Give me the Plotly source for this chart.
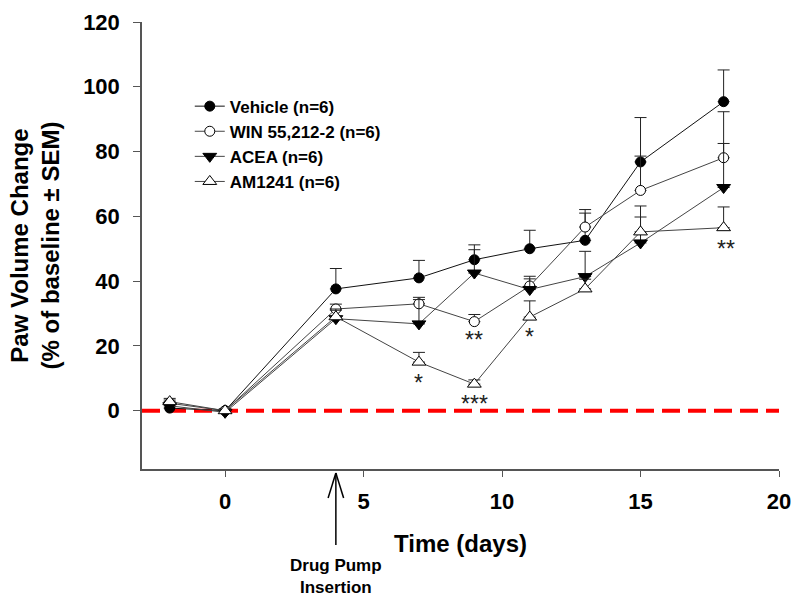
import plotly.graph_objects as go

# ---- data ----
days = [-2, 0, 4, 7, 9, 11, 13, 15, 18]

vehicle = [0.8, 0.0, 37.6, 41.0, 46.6, 50.0, 52.6, 76.8, 95.4]
vehicle_sem = [1.0, 0.5, 6.3, 5.4, 4.6, 5.7, 8.4, 13.7, 9.8]

win = [2.3, 0.0, 31.4, 33.0, 27.5, 38.5, 56.7, 68.0, 78.1]
win_sem = [1.0, 0.5, 1.5, 2.0, 2.2, 3.0, 5.4, 10.6, 14.2]

acea = [1.5, -0.5, 28.4, 26.8, 42.5, 37.4, 41.4, 51.8, 68.9]
acea_sem = [1.0, 0.5, 3.0, 7.5, 7.2, 3.3, 7.8, 8.0, 13.6]

am1241 = [2.8, 0.0, 29.0, 15.0, 8.2, 28.9, 37.6, 55.2, 56.5]
am1241_sem = [1.0, 0.5, 2.0, 3.0, 1.3, 5.0, 3.0, 8.0, 6.4]

series_names = ["Vehicle (n=6)", "WIN 55,212-2 (n=6)", "ACEA (n=6)", "AM1241 (n=6)"]

# significance marks
sig_x = [7, 9, 9, 11, 18.1]
sig_y = [9.5, 22.7, 2.9, 23.7, 51.0]
sig_text = ["*", "**", "***", "*", "**"]

x_ticks = [0, 5, 10, 15, 20]
y_ticks = [0, 20, 40, 60, 80, 100, 120]

pump_day = 4

FONT = "Arial, Liberation Sans, sans-serif"

fig = go.Figure()

styles = [
    dict(symbol="circle", color="black", line=dict(color="black", width=1), size=10, lc="#111111"),
    dict(symbol="circle", color="white", line=dict(color="black", width=1), size=10, lc="#444444"),
    dict(symbol="triangle-down", color="black", line=dict(color="black", width=1), size=12, lc="#444444"),
    dict(symbol="triangle-up", color="white", line=dict(color="black", width=1), size=12, lc="#444444"),
]
values = [vehicle, win, acea, am1241]
sems = [vehicle_sem, win_sem, acea_sem, am1241_sem]

for name, v, s, st in zip(series_names, values, sems, styles):
    fig.add_trace(go.Scatter(
        x=days, y=v, name=name, mode="lines+markers",
        line=dict(color=st["lc"], width=1),
        marker=dict(symbol=st["symbol"], color=st["color"], size=st["size"], line=st["line"]),
        error_y=dict(type="data", symmetric=False, array=s, arrayminus=[0] * len(s),
                     color="#222222", thickness=1, width=6),
        cliponaxis=False,
    ))

# baseline dashed red line
fig.add_shape(type="line", xref="paper", yref="y", x0=0, x1=1, y0=0, y1=0,
              line=dict(color="#ff0000", width=4, dash="18px,8px"), layer="below")

# Drug pump arrow (below axis)
fig.add_shape(type="line", xref="x", yref="paper", x0=pump_day, x1=pump_day, y0=-0.009, y1=-0.17,
              line=dict(color="black", width=1.5))
fig.add_shape(type="line", xref="x", yref="paper", x0=pump_day, x1=pump_day - 0.28, y0=-0.009, y1=-0.065,
              line=dict(color="black", width=1.5))
fig.add_shape(type="line", xref="x", yref="paper", x0=pump_day, x1=pump_day + 0.28, y0=-0.009, y1=-0.065,
              line=dict(color="black", width=1.5))
fig.add_annotation(x=pump_day, xref="x", y=-0.19, yref="paper", yanchor="top",
                   text="Drug Pump<br>Insertion", showarrow=False, align="center",
                   font=dict(family=FONT, size=17, color="black", weight="bold"))

for sx, sy, st in zip(sig_x, sig_y, sig_text):
    fig.add_annotation(x=sx, y=sy, text=st, showarrow=False, yanchor="middle", yshift=-3,
                       font=dict(family=FONT, size=23, color="#222222"))

fig.update_layout(
    width=800, height=603,
    margin=dict(l=142, r=21, t=22, b=134, autoexpand=False),
    paper_bgcolor="white", plot_bgcolor="white",
    font=dict(family=FONT, color="black"),
    showlegend=True,
    legend=dict(x=0.075, y=0.851, xanchor="left", yanchor="top",
                bgcolor="rgba(0,0,0,0)", borderwidth=0,
                font=dict(family=FONT, size=17, color="black", weight="bold")),
    xaxis=dict(range=[-3, 20], tickvals=x_ticks, showline=True, linecolor="#555555", linewidth=1.5,
               ticks="outside", ticklen=6, tickcolor="#555555", showgrid=False, zeroline=False,
               automargin=False, ticklabelstandoff=6,
               tickfont=dict(family=FONT, size=22, color="black", weight="bold"),
               title=dict(text="Time (days)", standoff=22,
                          font=dict(family=FONT, size=24, color="black", weight="bold"))),
    yaxis=dict(range=[-18, 120], tickvals=y_ticks, showline=True, linecolor="#555555", linewidth=1.5,
               ticks="outside", ticklen=7, tickcolor="#555555", showgrid=False, zeroline=False,
               automargin=False, ticklabelstandoff=9,
               tickfont=dict(family=FONT, size=22, color="black", weight="bold"),
               title=dict(text="Paw Volume Change<br>(% of baseline ± SEM)", standoff=17,
                          font=dict(family=FONT, size=24, color="black", weight="bold"))),
)

fig.write_html("out.html", config={"displayModeBar": False},
               post_script="document.body.style.margin='0';document.body.style.overflow='hidden';")
